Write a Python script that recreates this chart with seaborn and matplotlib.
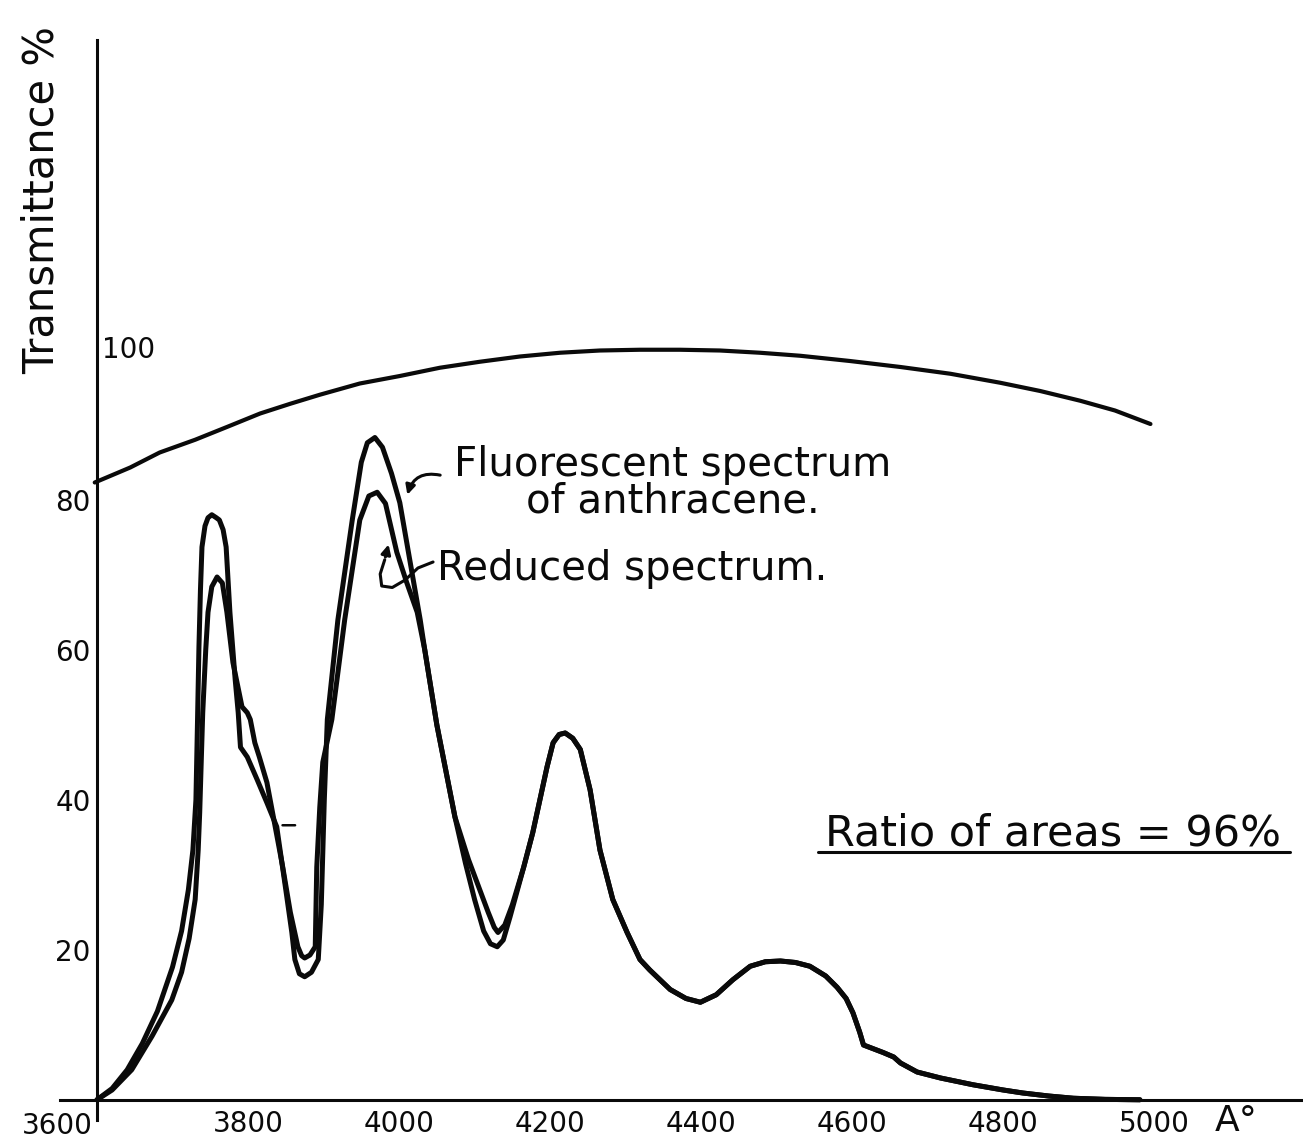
"""
Transmittance and anthracene fluorescence spectra, redrawn from a scanned figure.
"""
import matplotlib
matplotlib.use("Agg")
import matplotlib.pyplot as plt
import numpy as np
import pandas as pd
import seaborn as sns

# ── Data (wavelength in Å, values in %) ────────────────────────────────────

trans_wl = [3597, 3644, 3683, 3730, 3772, 3816, 3856, 3895, 3948, 4001,
            4054, 4107, 4160, 4213, 4266, 4319, 4372, 4425, 4478, 4531,
            4597, 4664, 4730, 4796, 4849, 4902, 4948, 4995]
trans_val = [82.3, 84.3, 86.3, 88.0, 89.7, 91.5, 92.8, 94.0, 95.5, 96.5,
             97.6, 98.4, 99.1, 99.6, 99.9, 100.0, 100.0, 99.9, 99.6, 99.2,
             98.5, 97.7, 96.8, 95.6, 94.5, 93.2, 91.9, 90.1]

fluor_wl = [3600, 3620, 3640, 3660, 3680, 3700, 3712, 3721, 3727, 3731,
            3733, 3735, 3737, 3739, 3743, 3747, 3752, 3758, 3762, 3767,
            3771, 3776, 3783, 3787, 3790, 3799, 3812, 3825, 3838, 3850,
            3858, 3862, 3868, 3875, 3884, 3893, 3897, 3901, 3905, 3919,
            3938, 3950, 3958, 3968, 3978, 3990, 4001, 4015, 4028, 4034,
            4050, 4074, 4088, 4100, 4112, 4121, 4130, 4138, 4147, 4165,
            4177, 4196, 4204, 4212, 4220, 4230, 4240, 4253, 4266, 4283,
            4302, 4319, 4332, 4359, 4380, 4399, 4420, 4442, 4465, 4485,
            4505, 4525, 4544, 4565, 4580, 4592, 4601, 4610, 4615, 4628,
            4641, 4655, 4664, 4686, 4717, 4760, 4800, 4826, 4860, 4893,
            4935, 4981]
fluor_val = [0.0, 1.5, 4.0, 7.5, 11.8, 17.7, 22.5, 28.0, 33.3, 40.0,
             50.0, 60.4, 68.0, 73.7, 76.5, 77.6, 78.0, 77.6, 77.3, 76.0,
             73.7, 65.0, 56.0, 51.6, 47.0, 45.7, 42.7, 39.6, 36.4, 28.0,
             22.3, 18.7, 16.8, 16.4, 17.0, 18.7, 26.0, 40.0, 50.7, 64.0,
             77.3, 85.0, 87.6, 88.3, 87.0, 83.5, 79.6, 71.5, 64.0, 60.0,
             50.0, 37.7, 31.5, 26.7, 22.5, 20.8, 20.4, 21.3, 24.4, 31.0,
             35.6, 44.4, 47.6, 48.7, 48.9, 48.2, 46.7, 41.3, 33.3, 26.7,
             22.3, 18.7, 17.3, 14.7, 13.5, 13.0, 14.0, 16.0, 17.8, 18.4,
             18.5, 18.3, 17.8, 16.5, 15.0, 13.5, 11.6, 9.0, 7.3, 6.8,
             6.3, 5.7, 4.9, 3.7, 2.9, 2.0, 1.3, 0.9, 0.5, 0.2,
             0.05, 0.0]

reduced_wl = [3600, 3620, 3646, 3673, 3699, 3712, 3722, 3730, 3734, 3736,
              3738, 3740, 3744, 3747, 3752, 3759, 3766, 3772, 3780, 3792,
              3799, 3803, 3809, 3815, 3825, 3833, 3846, 3856, 3866, 3871,
              3875, 3882, 3889, 3891, 3895, 3899, 3911, 3928, 3948, 3960,
              3971, 3982, 3997, 4010, 4024, 4034, 4050, 4074, 4092, 4105,
              4118, 4126, 4131, 4140, 4150, 4165, 4177, 4196, 4204, 4212,
              4220, 4230, 4240, 4253, 4266, 4283, 4302, 4319, 4332, 4359,
              4380, 4399, 4420, 4442, 4465, 4485, 4505, 4525, 4544, 4565,
              4580, 4592, 4601, 4610, 4615, 4628, 4641, 4655, 4664, 4686,
              4717, 4760, 4800, 4826, 4860, 4893, 4935, 4981]
reduced_val = [0.0, 1.3, 4.0, 8.5, 13.3, 17.0, 21.5, 26.7, 33.3, 38.3,
               45.0, 51.6, 60.0, 65.0, 68.4, 69.7, 68.9, 65.0, 58.3, 52.4,
               51.6, 50.7, 47.6, 45.7, 42.3, 38.0, 31.0, 25.0, 20.4, 19.2,
               18.9, 19.3, 20.4, 31.0, 39.0, 45.0, 50.7, 64.0, 77.3, 80.5,
               81.0, 79.5, 73.0, 69.0, 65.0, 60.0, 50.0, 37.7, 32.0, 28.5,
               25.0, 23.0, 22.3, 23.3, 26.0, 31.0, 35.6, 44.4, 47.6, 48.7,
               48.9, 48.2, 46.7, 41.3, 33.3, 26.7, 22.3, 18.7, 17.3, 14.7,
               13.5, 13.0, 14.0, 16.0, 17.8, 18.4, 18.5, 18.3, 17.8, 16.5,
               15.0, 13.5, 11.6, 9.0, 7.3, 6.8, 6.3, 5.7, 4.9, 3.7,
               2.9, 2.0, 1.3, 0.9, 0.5, 0.2, 0.05, 0.0]

x_ticks = [3800, 4000, 4200, 4400, 4600, 4800, 5000]
y_ticks = [20, 40, 60, 80, 100]

# ── Style ──────────────────────────────────────────────────────────────────

sns.set_theme(style="white")
plt.rcParams["font.family"] = ["DejaVu Sans"]
INK = "#0a0a0a"

fig = plt.figure(figsize=(13.03, 11.46), dpi=100)
ax = fig.add_axes([60 / 1303, 26 / 1146, 1243 / 1303, 1080 / 1146])
ax.set_xlim(3551, 5197)
ax.set_ylim(-2.7, 141.3)

curves = [
    pd.DataFrame({"wl": trans_wl, "val": trans_val}),
    pd.DataFrame({"wl": fluor_wl, "val": fluor_val}),
    pd.DataFrame({"wl": reduced_wl, "val": reduced_val}),
]
widths = [3.0, 3.6, 3.6]
for df, lw in zip(curves, widths):
    sns.lineplot(data=df, x="wl", y="val", ax=ax, color=INK, linewidth=lw,
                 estimator=None, sort=False, solid_joinstyle="round",
                 solid_capstyle="round")

# ── Axes ───────────────────────────────────────────────────────────────────

for side in ["top", "right"]:
    ax.spines[side].set_visible(False)
ax.spines["left"].set_position(("data", 3600))
ax.spines["bottom"].set_position(("data", 0))
for side in ["left", "bottom"]:
    ax.spines[side].set_linewidth(2.2)
    ax.spines[side].set_color(INK)

ax.set_xticks(x_ticks)
ax.set_xticklabels([str(t) for t in x_ticks])
ax.set_yticks(y_ticks)
ax.set_yticklabels(["20", "40", "60", "80", ""])
ax.tick_params(axis="both", direction="inout", length=5, width=1.5,
               colors=INK, labelsize=20)
ax.tick_params(axis="x", pad=5)
ax.tick_params(axis="y", pad=2, labelsize=20)
ax.set_xlabel("")
ax.set_ylabel("")

ax.text(3594, -1.6, "3600", fontsize=20, color=INK, ha="right", va="top")
ax.text(3607, 100, "100", fontsize=20, color=INK, ha="left", va="center")
ax.text(5108, -0.6, "A°", fontsize=26, color=INK, ha="center", va="top")

fig.text(42 / 1303, 1 - 200 / 1146, "Transmittance %", rotation=90,
         fontsize=30, color=INK, ha="center", va="center")

# ── Labels and pointers ────────────────────────────────────────────────────

ax.text(4362, 78.3, "Fluorescent spectrum\nof anthracene.", fontsize=29,
        color=INK, ha="center", va="baseline", multialignment="center",
        linespacing=0.9)
ax.text(4050, 69.3, "Reduced spectrum.", fontsize=29, color=INK,
        ha="left", va="baseline")

ax.annotate("", xy=(4010, 80.3), xytext=(4058, 83.2),
            arrowprops=dict(arrowstyle="-|>", color=INK, lw=2.2,
                            connectionstyle="arc3,rad=0.5", mutation_scale=14))
# looped pointer from "Reduced spectrum." to the lower curve
loop_x = [4045, 4025, 4008, 3991, 3977, 3975, 3981]
loop_y = [71.7, 70.9, 69.3, 68.3, 68.5, 70.1, 72.0]
ax.plot(loop_x, loop_y, color=INK, linewidth=2.2, solid_capstyle="round")
ax.annotate("", xy=(3987, 74.4), xytext=(3981, 72.0),
            arrowprops=dict(arrowstyle="-|>", color=INK, lw=2.2,
                            mutation_scale=14))
ax.annotate("", xy=(3842, 36.6), xytext=(3866, 36.6),
            arrowprops=dict(arrowstyle="-", color=INK, lw=1.8))

ax.text(4564, 33.9, "Ratio of areas = 96%", fontsize=31, color=INK,
        ha="left", va="baseline")
ax.plot([4555, 5180], [33.0, 33.0], color=INK, linewidth=2.2)

fig.savefig("out.png", dpi=100, facecolor="white")
